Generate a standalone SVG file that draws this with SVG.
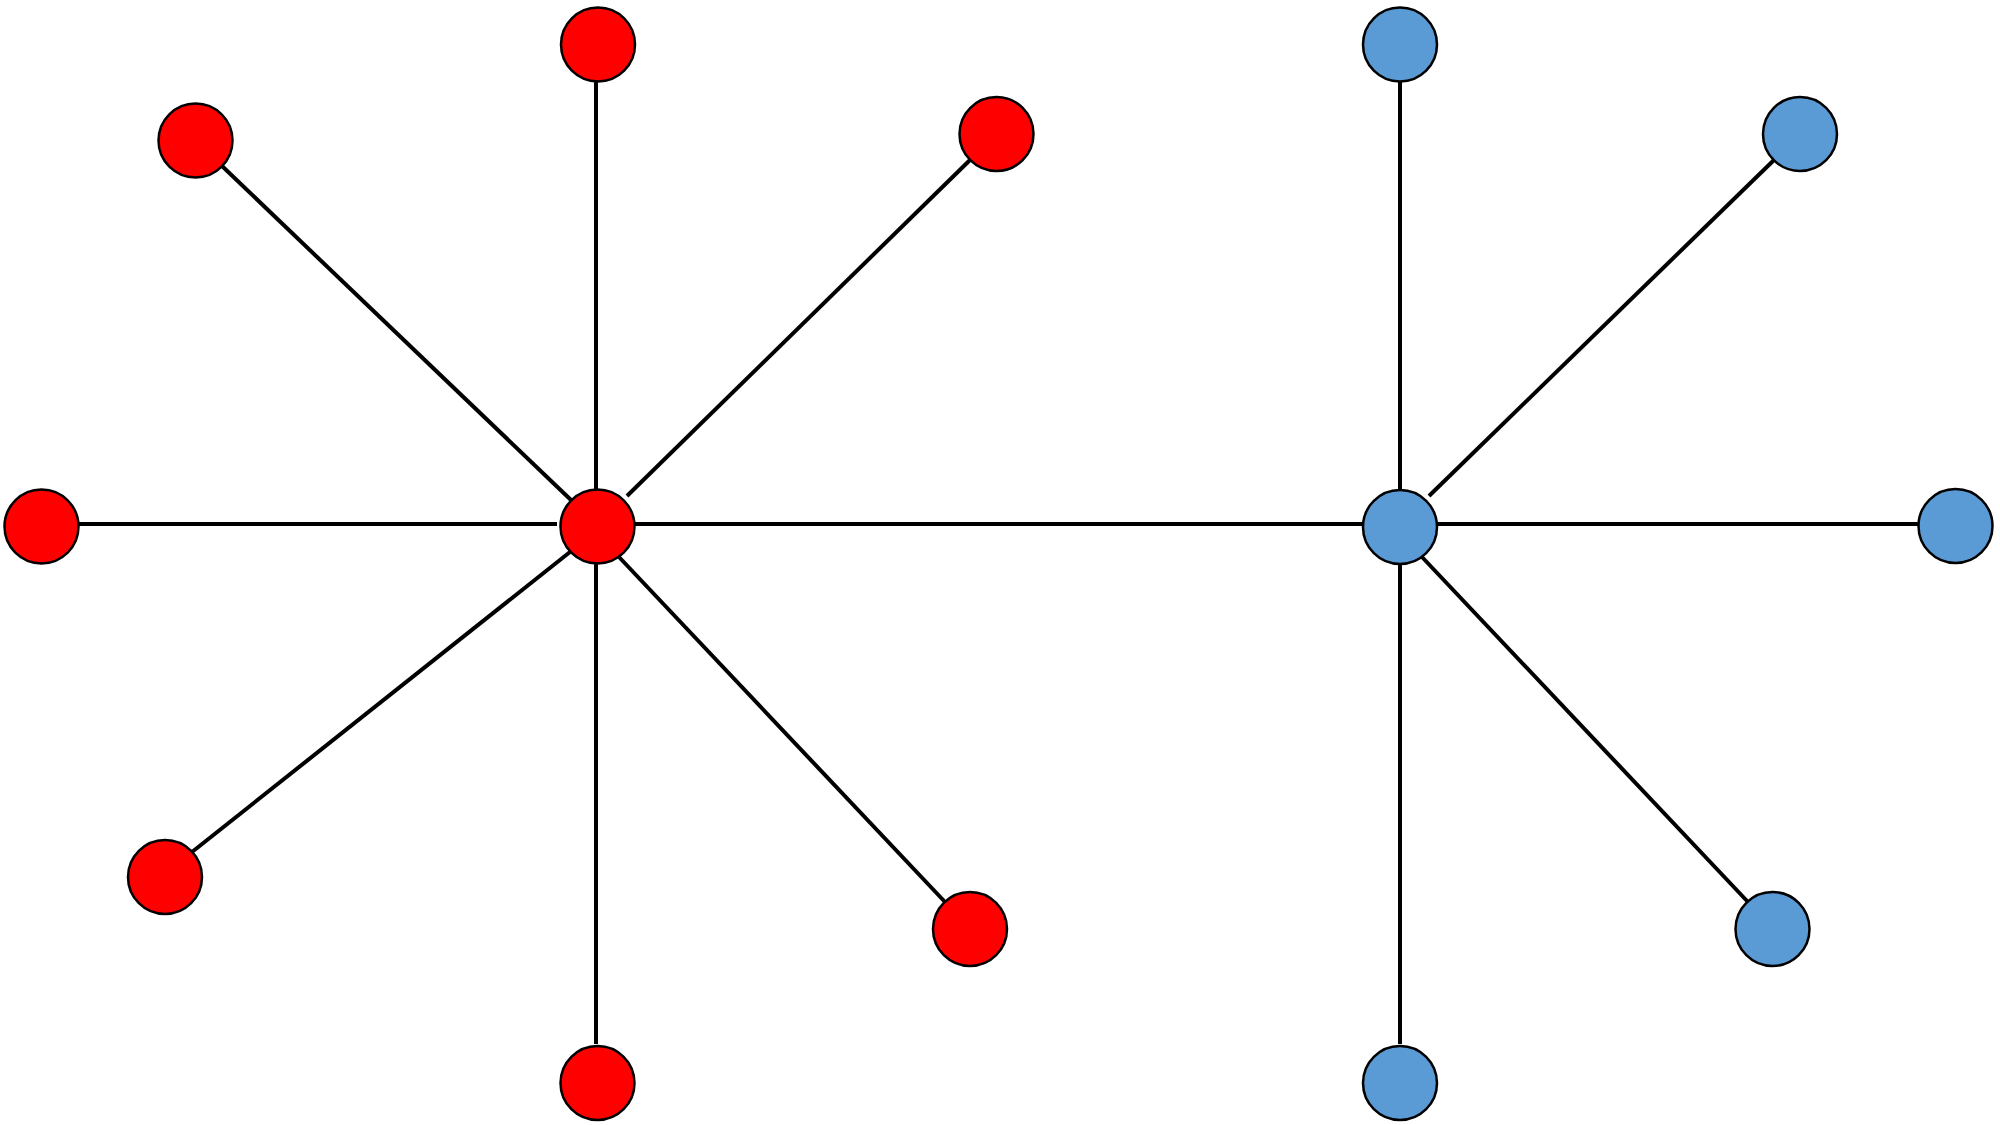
<svg xmlns="http://www.w3.org/2000/svg" width="2000" height="1125" viewBox="0 0 2000 1125">
<style>
.edge{stroke:#000;stroke-width:4;fill:none}
.red{fill:#ff0000;stroke:#000;stroke-width:2.5}
.blue{fill:#5b9bd5;stroke:#000;stroke-width:2.5}
</style>
<rect width="2000" height="1125" fill="#fff"/>
<g id="connectors">
<line class="edge" x1="571" y1="500" x2="222" y2="166"/>
<line class="edge" x1="596" y1="490" x2="596" y2="81"/>
<line class="edge" x1="627" y1="496" x2="970" y2="160"/>
<line class="edge" x1="79" y1="524" x2="557" y2="524"/>
<line class="edge" x1="634" y1="524" x2="1362" y2="524"/>
<line class="edge" x1="570" y1="552" x2="192" y2="852"/>
<line class="edge" x1="596" y1="563" x2="596" y2="1044"/>
<line class="edge" x1="619" y1="557" x2="945" y2="902"/>
<line class="edge" x1="1400" y1="81" x2="1400" y2="490"/>
<line class="edge" x1="1429" y1="496" x2="1774" y2="160"/>
<line class="edge" x1="1437" y1="524" x2="1918" y2="524"/>
<line class="edge" x1="1422" y1="557" x2="1748" y2="902"/>
<line class="edge" x1="1400" y1="564" x2="1400" y2="1044"/>
</g>
<g id="red-center"><circle class="red" cx="597.5" cy="526.5" r="37"/></g>
<g id="red-top-left"><circle class="red" cx="195.5" cy="140.5" r="37"/></g>
<g id="red-top"><circle class="red" cx="598" cy="44.5" r="37"/></g>
<g id="red-top-right"><circle class="red" cx="996.5" cy="134" r="37"/></g>
<g id="red-left"><circle class="red" cx="41.5" cy="526.5" r="37"/></g>
<g id="red-bottom-left"><circle class="red" cx="165" cy="877" r="37"/></g>
<g id="red-bottom"><circle class="red" cx="597.5" cy="1083" r="37"/></g>
<g id="red-bottom-right"><circle class="red" cx="970" cy="929" r="37"/></g>
<g id="blue-center"><circle class="blue" cx="1400" cy="527" r="37"/></g>
<g id="blue-top"><circle class="blue" cx="1400" cy="44.5" r="37"/></g>
<g id="blue-top-right"><circle class="blue" cx="1800" cy="134" r="37"/></g>
<g id="blue-right"><circle class="blue" cx="1955.5" cy="526" r="37"/></g>
<g id="blue-bottom-right"><circle class="blue" cx="1772.5" cy="929" r="37"/></g>
<g id="blue-bottom"><circle class="blue" cx="1400" cy="1083" r="37"/></g>
</svg>
